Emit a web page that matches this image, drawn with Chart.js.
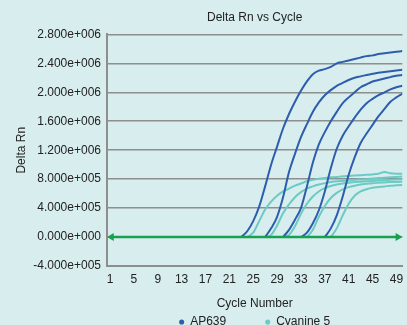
<!DOCTYPE html>
<html>
<head>
<meta charset="utf-8">
<script src="https://cdn.jsdelivr.net/npm/chart.js@4/dist/chart.umd.min.js"></script>
<style>
  html, body { margin: 0; padding: 0; background: #d8edee; overflow: hidden; width: 407px; height: 325px; }
  #wrap { width: 407px; height: 338px; }
</style>
</head>
<body>
<div id="wrap"><canvas id="chart" width="407" height="338"></canvas></div>
<script>
// Amplification curves: Delta Rn per PCR cycle (null = below threshold, not plotted)
const CYCLES = [1,2,3,4,5,6,7,8,9,10,11,12,13,14,15,16,17,18,19,20,21,22,23,24,25,
                26,27,28,29,30,31,32,33,34,35,36,37,38,39,40,41,42,43,44,45,46,47,48,49,50];
const X_TICKS = [1,5,9,13,17,21,25,29,33,37,41,45,49];
const Y_TICKS = [-400000,0,400000,800000,1200000,1600000,2000000,2400000,2800000];
const THRESHOLD = 0;
const THRESHOLD_SPAN = [1.25, 49.25];

const N = null;
// AP639 dilution series
const AP639_1 = [N,N,N,N,N,N,N,N,N,N,N,N,N,N,N,N,N,N,N,N,N,N,
  0,80000,220000,420000,700000,1000000,1250000,1500000,1700000,1870000,2020000,2150000,2250000,
  2300000,2320000,2350000,2400000,2420000,2440000,2460000,2480000,2500000,2510000,2530000,2540000,
  2550000,2560000,2570000];
const AP639_2 = [N,N,N,N,N,N,N,N,N,N,N,N,N,N,N,N,N,N,N,N,N,N,N,N,N,N,
  0,120000,280000,550000,900000,1150000,1380000,1560000,1730000,1860000,1960000,2030000,2090000,
  2130000,2170000,2200000,2220000,2240000,2255000,2270000,2280000,2290000,2300000,2310000];
const AP639_3 = [N,N,N,N,N,N,N,N,N,N,N,N,N,N,N,N,N,N,N,N,N,N,N,N,N,N,N,N,N,
  0,100000,240000,400000,700000,1030000,1280000,1450000,1600000,1730000,1850000,1930000,2000000,
  2070000,2110000,2150000,2170000,2190000,2210000,2230000,2240000];
const AP639_4 = [N,N,N,N,N,N,N,N,N,N,N,N,N,N,N,N,N,N,N,N,N,N,N,N,N,N,N,N,N,N,N,N,
  0,60000,190000,370000,630000,950000,1220000,1400000,1530000,1650000,1760000,1850000,1910000,
  1960000,2000000,2040000,2070000,2090000];
const AP639_5 = [N,N,N,N,N,N,N,N,N,N,N,N,N,N,N,N,N,N,N,N,N,N,N,N,N,N,N,N,N,N,N,N,N,N,N,N,
  0,120000,300000,560000,860000,1100000,1300000,1430000,1550000,1670000,1770000,1870000,1930000,1980000];

// Cyanine 5 dilution series
const CY5_1 = [N,N,N,N,N,N,N,N,N,N,N,N,N,N,N,N,N,N,N,N,N,N,N,
  0,60000,220000,380000,490000,570000,630000,670000,710000,740000,770000,790000,805000,815000,
  825000,830000,840000,845000,850000,855000,860000,865000,875000,900000,880000,875000,875000];
const CY5_2 = [N,N,N,N,N,N,N,N,N,N,N,N,N,N,N,N,N,N,N,N,N,N,N,N,N,N,
  0,30000,160000,330000,450000,550000,620000,670000,700000,725000,745000,760000,770000,775000,
  780000,790000,795000,800000,810000,815000,820000,825000,830000,835000];
const CY5_3 = [N,N,N,N,N,N,N,N,N,N,N,N,N,N,N,N,N,N,N,N,N,N,N,N,N,N,N,N,N,
  0,30000,150000,320000,460000,560000,630000,675000,705000,725000,740000,750000,760000,765000,
  770000,775000,780000,785000,790000,795000,800000];
const CY5_4 = [N,N,N,N,N,N,N,N,N,N,N,N,N,N,N,N,N,N,N,N,N,N,N,N,N,N,N,N,N,N,N,N,N,
  0,100000,280000,430000,540000,610000,660000,690000,710000,725000,735000,745000,750000,755000,
  760000,762000,765000];
const CY5_5 = [N,N,N,N,N,N,N,N,N,N,N,N,N,N,N,N,N,N,N,N,N,N,N,N,N,N,N,N,N,N,N,N,N,N,N,N,N,
  0,120000,300000,460000,570000,630000,660000,680000,690000,700000,710000,715000,720000];

const AP639_SERIES = [AP639_1, AP639_2, AP639_3, AP639_4, AP639_5];
const CY5_SERIES = [CY5_1, CY5_2, CY5_3, CY5_4, CY5_5];

const BLUE = '#2d5dad';
const CYAN = '#6ccac5';
const GREEN = '#17a04f';
const GRID = '#8e8e8e';
const TEXT = '#222222';
const FONT = { family: '"Liberation Sans", Arial, Helvetica, sans-serif', size: 12 };

const toPoints = arr => CYCLES.map((c, i) => ({ x: c, y: arr[i] }));

function sciLabel(v) {
  if (v === 0) return '0.000e+000';
  const e = Math.floor(Math.log10(Math.abs(v)) + 1e-9);
  const m = v / Math.pow(10, e);
  return m.toFixed(3) + 'e' + (e < 0 ? '-' : '+') + String(Math.abs(e)).padStart(3, '0');
}

const curve = (arr, color, order) => ({
  data: toPoints(arr),
  borderColor: color,
  backgroundColor: color,
  borderWidth: 2,
  pointRadius: 0,
  cubicInterpolationMode: 'monotone',
  spanGaps: false,
  order
});

const datasets = [
  {
    label: 'Threshold',
    data: [{ x: THRESHOLD_SPAN[0], y: THRESHOLD }, { x: THRESHOLD_SPAN[1], y: THRESHOLD }],
    borderColor: GREEN,
    backgroundColor: GREEN,
    borderWidth: 2.5,
    pointStyle: 'triangle',
    pointRadius: 4.6,
    pointRotation: [-90, 90],
    pointBorderWidth: 0,
    order: 0
  },
  ...AP639_SERIES.map(a => curve(a, BLUE, 1)),
  ...CY5_SERIES.map(a => curve(a, CYAN, 2))
];

new Chart(document.getElementById('chart'), {
  type: 'line',
  data: { datasets },
  options: {
    responsive: false,
    animation: false,
    events: [],
    layout: { padding: 0 },
    plugins: {
      title: {
        display: true,
        text: 'Delta Rn vs Cycle',
        color: TEXT,
        font: { ...FONT, weight: 'normal' },
        fullSize: false,
        padding: { top: 10, bottom: 10 }
      },
      legend: {
        display: true,
        position: 'bottom',
        fullSize: false,
        labels: {
          color: TEXT,
          font: FONT,
          usePointStyle: true,
          boxWidth: 5,
          boxHeight: 3.6,
          padding: 14,
          generateLabels: () => [
            { text: 'AP639', fillStyle: BLUE, strokeStyle: BLUE, lineWidth: 0, pointStyle: 'circle', hidden: false, fontColor: TEXT },
            { text: '', fillStyle: 'rgba(0,0,0,0)', strokeStyle: 'rgba(0,0,0,0)', lineWidth: 0, pointStyle: 'circle', hidden: false },
            { text: 'Cyanine 5', fillStyle: CYAN, strokeStyle: CYAN, lineWidth: 0, pointStyle: 'circle', hidden: false, fontColor: TEXT }
          ]
        }
      },
      tooltip: { enabled: false }
    },
    scales: {
      x: {
        type: 'linear',
        min: 0.5,
        max: 50,
        afterBuildTicks: s => { s.ticks = X_TICKS.map(v => ({ value: v })); },
        afterFit: s => { s.height = 36; s.paddingLeft = 0; s.paddingRight = 0; },
        ticks: { color: TEXT, font: FONT, padding: 6, maxRotation: 0, autoSkip: false },
        grid: { display: false, drawTicks: false },
        border: { display: true, color: GRID, width: 2 },
        title: {
          display: true,
          text: 'Cycle Number',
          color: TEXT,
          font: FONT,
          padding: { top: 0, bottom: -8.5 }
        }
      },
      y: {
        type: 'linear',
        min: -400000,
        max: 2800000,
        afterBuildTicks: s => { s.ticks = Y_TICKS.map(v => ({ value: v })); },
        afterFit: s => { s.width = 107; },
        ticks: { color: TEXT, font: FONT, padding: 6, callback: v => sciLabel(v) },
        grid: { color: GRID, lineWidth: 1.6, drawTicks: false },
        border: { display: true, color: GRID, width: 2 },
        title: {
          display: true,
          text: 'Delta Rn',
          color: TEXT,
          font: FONT,
          padding: { top: 14.6, bottom: 0 }
        }
      }
    }
  }
});
</script>
</body>
</html>
